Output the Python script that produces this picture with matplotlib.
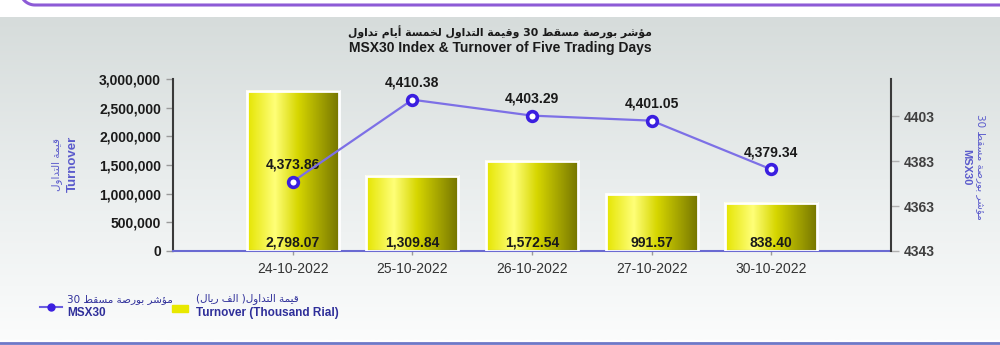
import re
import numpy as np
import matplotlib
matplotlib.use('Agg')
import matplotlib.pyplot as plt
from matplotlib.colors import LinearSegmentedColormap
from matplotlib.lines import Line2D
from matplotlib.patches import Rectangle

# data
dates = ['24-10-2022', '25-10-2022', '26-10-2022', '27-10-2022', '30-10-2022']
turnover = [2798.07, 1309.84, 1572.54, 991.57, 838.40]   # thousand rial
msx30 = [4373.86, 4410.38, 4403.29, 4401.05, 4379.34]
left_ticks = [0, 500000, 1000000, 1500000, 2000000, 2500000, 3000000]
right_ticks = [4343, 4363, 4383, 4403]

title_ar = 'مؤشر بورصة مسقط 30 وقيمة التداول لخمسة أيام تداول'
title_en = 'MSX30 Index & Turnover of Five Trading Days'
turn_ar = 'قيمة التداول'
msx_ar = 'مؤشر بورصة مسقط 30'
turn_leg_ar = 'قيمة التداول( الف ريال)'

# simple arabic shaping (presentation forms) + right-to-left order
FORMS = {
    '\u0627': ('\uFE8D', '\uFE8E', None, None),
    '\u0623': ('\uFE83', '\uFE84', None, None),
    '\u0624': ('\uFE85', '\uFE86', None, None),
    '\u0628': ('\uFE8F', '\uFE90', '\uFE91', '\uFE92'),
    '\u0629': ('\uFE93', '\uFE94', None, None),
    '\u062A': ('\uFE95', '\uFE96', '\uFE97', '\uFE98'),
    '\u062E': ('\uFEA5', '\uFEA6', '\uFEA7', '\uFEA8'),
    '\u062F': ('\uFEA9', '\uFEAA', None, None),
    '\u0631': ('\uFEAD', '\uFEAE', None, None),
    '\u0633': ('\uFEB1', '\uFEB2', '\uFEB3', '\uFEB4'),
    '\u0634': ('\uFEB5', '\uFEB6', '\uFEB7', '\uFEB8'),
    '\u0635': ('\uFEB9', '\uFEBA', '\uFEBB', '\uFEBC'),
    '\u0637': ('\uFEC1', '\uFEC2', '\uFEC3', '\uFEC4'),
    '\u0641': ('\uFED1', '\uFED2', '\uFED3', '\uFED4'),
    '\u0642': ('\uFED5', '\uFED6', '\uFED7', '\uFED8'),
    '\u0644': ('\uFEDD', '\uFEDE', '\uFEDF', '\uFEE0'),
    '\u0645': ('\uFEE1', '\uFEE2', '\uFEE3', '\uFEE4'),
    '\u0648': ('\uFEED', '\uFEEE', None, None),
    '\u064A': ('\uFEF1', '\uFEF2', '\uFEF3', '\uFEF4'),
}


def ar(s):
    out = []
    for i, c in enumerate(s):
        f = FORMS.get(c)
        if f is None:
            out.append(c)
            continue
        prev = s[i - 1] if i > 0 else ''
        nxt = s[i + 1] if i + 1 < len(s) else ''
        jp = prev in FORMS and FORMS[prev][2] is not None
        jn = f[2] is not None and nxt in FORMS
        if jp and jn:
            out.append(f[3])
        elif jp:
            out.append(f[1])
        elif jn:
            out.append(f[2])
        else:
            out.append(f[0])
    vis = ''.join(out)[::-1]
    vis = re.sub(r'\d+', lambda m: m.group(0)[::-1], vis)
    return vis.translate(str.maketrans('()', ')('))


plt.rcParams['font.family'] = ['Liberation Sans', 'DejaVu Sans']
W, H = 1000, 345
fig = plt.figure(figsize=(W / 100, H / 100), dpi=100)

# background panel gradient
bg = fig.add_axes([0, 0, 1, 1], zorder=-5)
bg.axis('off')
grad = np.linspace(0, 1, 256).reshape(-1, 1)
bgcmap = LinearSegmentedColormap.from_list('bg', ['#d6dcdb', '#e9eded', '#fbfcfc'])
bg.imshow(grad, cmap=bgcmap, extent=(0, W, 340, 17), aspect='auto')
bg.set_xlim(0, W)
bg.set_ylim(H, 0)
t = np.linspace(np.pi, 1.5 * np.pi, 20)
cx = np.r_[35 + 15 * np.cos(t), W]
cy = np.r_[-10 - 15 * np.sin(t), 5]
bg.plot(cx, cy, color='#8d5bd6', lw=2.2)
bg.plot([0, W], [343, 343], color='#6e78c8', lw=2)

ax = fig.add_axes([0.173, 94 / H, 0.718, 172 / H])
ax.patch.set_visible(False)
x = np.arange(len(dates))
heights = [v * 1000 for v in turnover]
bars = ax.bar(x, heights, width=0.77, facecolor='none', edgecolor='white', lw=2, zorder=3)

barcmap = LinearSegmentedColormap.from_list(
    'bar', [(0, '#e4e400'), (0.3, '#ffff78'), (0.55, '#d6d600'), (1, '#747400')])
hgrad = np.linspace(0, 1, 256).reshape(1, -1)
for b in bars:
    x0, w, h = b.get_x(), b.get_width(), b.get_height()
    ax.imshow(hgrad, cmap=barcmap, extent=(x0, x0 + w, 0, h), aspect='auto', zorder=2)

for xi, v in zip(x, turnover):
    ax.annotate(f'{v:,.2f}', (xi, 0), xytext=(0, 1), textcoords='offset points',
                ha='center', va='bottom', fontsize=10, fontweight='bold', color='#1a1a1a', zorder=4)

ax.set_xlim(-1, 5)
ax.set_ylim(0, 3000000)
ax.set_yticks(left_ticks)
ax.set_yticklabels([f'{v:,}' for v in left_ticks], fontsize=10, fontweight='bold', color='#1a1a1a')
ax.set_xticks(x)
ax.set_xticklabels(dates, fontsize=10, color='#333333')
ax.tick_params(axis='y', colors='#9a9a9a', labelcolor='#1a1a1a', length=5, width=1)
ax.tick_params(axis='x', colors='#9a9a9a', labelcolor='#333333', length=3, width=1, pad=5)
ax.spines['top'].set_visible(False)
ax.spines['right'].set_visible(False)
ax.spines['left'].set_color('#3a3a3a')
ax.spines['left'].set_linewidth(1.5)
ax.spines['bottom'].set_color('#6a6ad2')
ax.spines['bottom'].set_linewidth(1.5)

ax2 = ax.twinx()
ax2.plot(x, msx30, color='#7d70e6', lw=1.6, marker='o', ms=7, mfc='white',
         mec='#3b1fe0', mew=2.6, zorder=5)
for xi, v in zip(x, msx30):
    ax2.annotate(f'{v:,.2f}', (xi, v), xytext=(0, 7), textcoords='offset points',
                 ha='center', va='bottom', fontsize=10, fontweight='bold', color='#1a1a1a')
ax2.set_ylim(4343, 4419.6)
ax2.set_yticks(right_ticks)
ax2.set_yticklabels([str(v) for v in right_ticks], fontsize=10, fontweight='bold')
ax2.tick_params(axis='y', colors='#b0b0b0', labelcolor='#404040', length=6, width=1)
for s in ['top', 'left', 'bottom']:
    ax2.spines[s].set_visible(False)
ax2.spines['right'].set_color('#3a3a3a')
ax2.spines['right'].set_linewidth(1.5)

# titles
fig.text(0.5, 1 - 32 / H, ar(title_ar), ha='center', va='center', fontsize=7.8,
         fontweight='bold', family='DejaVu Sans', color='#1a1a1a')
fig.text(0.5, 1 - 48 / H, title_en, ha='center', va='center', fontsize=10,
         fontweight='bold', color='#1a1a1a')

# axis titles
lab = '#5b5bcc'
fig.text(57 / W, 1 - 164 / H, ar(turn_ar), rotation=90, ha='center', va='center',
         fontsize=7.5, family='DejaVu Sans', color=lab)
fig.text(73 / W, 1 - 164 / H, 'Turnover', rotation=90, ha='center', va='center',
         fontsize=9.5, fontweight='bold', color=lab)
fig.text(981 / W, 1 - 167 / H, ar(msx_ar), rotation=270, ha='center', va='center',
         fontsize=7.5, family='DejaVu Sans', color=lab)
fig.text(966 / W, 1 - 167 / H, 'MSX30', rotation=270, ha='center', va='center',
         fontsize=8, fontweight='bold', color=lab)

# legend
leg = '#2f2f9a'
fig.add_artist(Line2D([40 / W, 62 / W], [1 - 307 / H] * 2, color='#6a5ee0', lw=1.5,
                      transform=fig.transFigure))
fig.add_artist(Line2D([51 / W], [1 - 307 / H], color='#3b1fe0', marker='o', ms=5,
                      transform=fig.transFigure))
fig.text(67 / W, 1 - 299 / H, ar(msx_ar), ha='left', va='center', fontsize=7.5,
         family='DejaVu Sans', color=leg)
fig.text(67 / W, 1 - 313 / H, 'MSX30', ha='left', va='center', fontsize=8.5,
         fontweight='bold', color=leg)
fig.add_artist(Rectangle((172 / W, 1 - 312 / H), 16 / W, 7 / H, color='#e8e800',
                         transform=fig.transFigure))
fig.text(196 / W, 1 - 299 / H, ar(turn_leg_ar), ha='left', va='center', fontsize=7.5,
         family='DejaVu Sans', color=leg)
fig.text(196 / W, 1 - 313 / H, 'Turnover (Thousand Rial)', ha='left', va='center',
         fontsize=8.5, fontweight='bold', color=leg)

fig.savefig('out.png', dpi=100)
